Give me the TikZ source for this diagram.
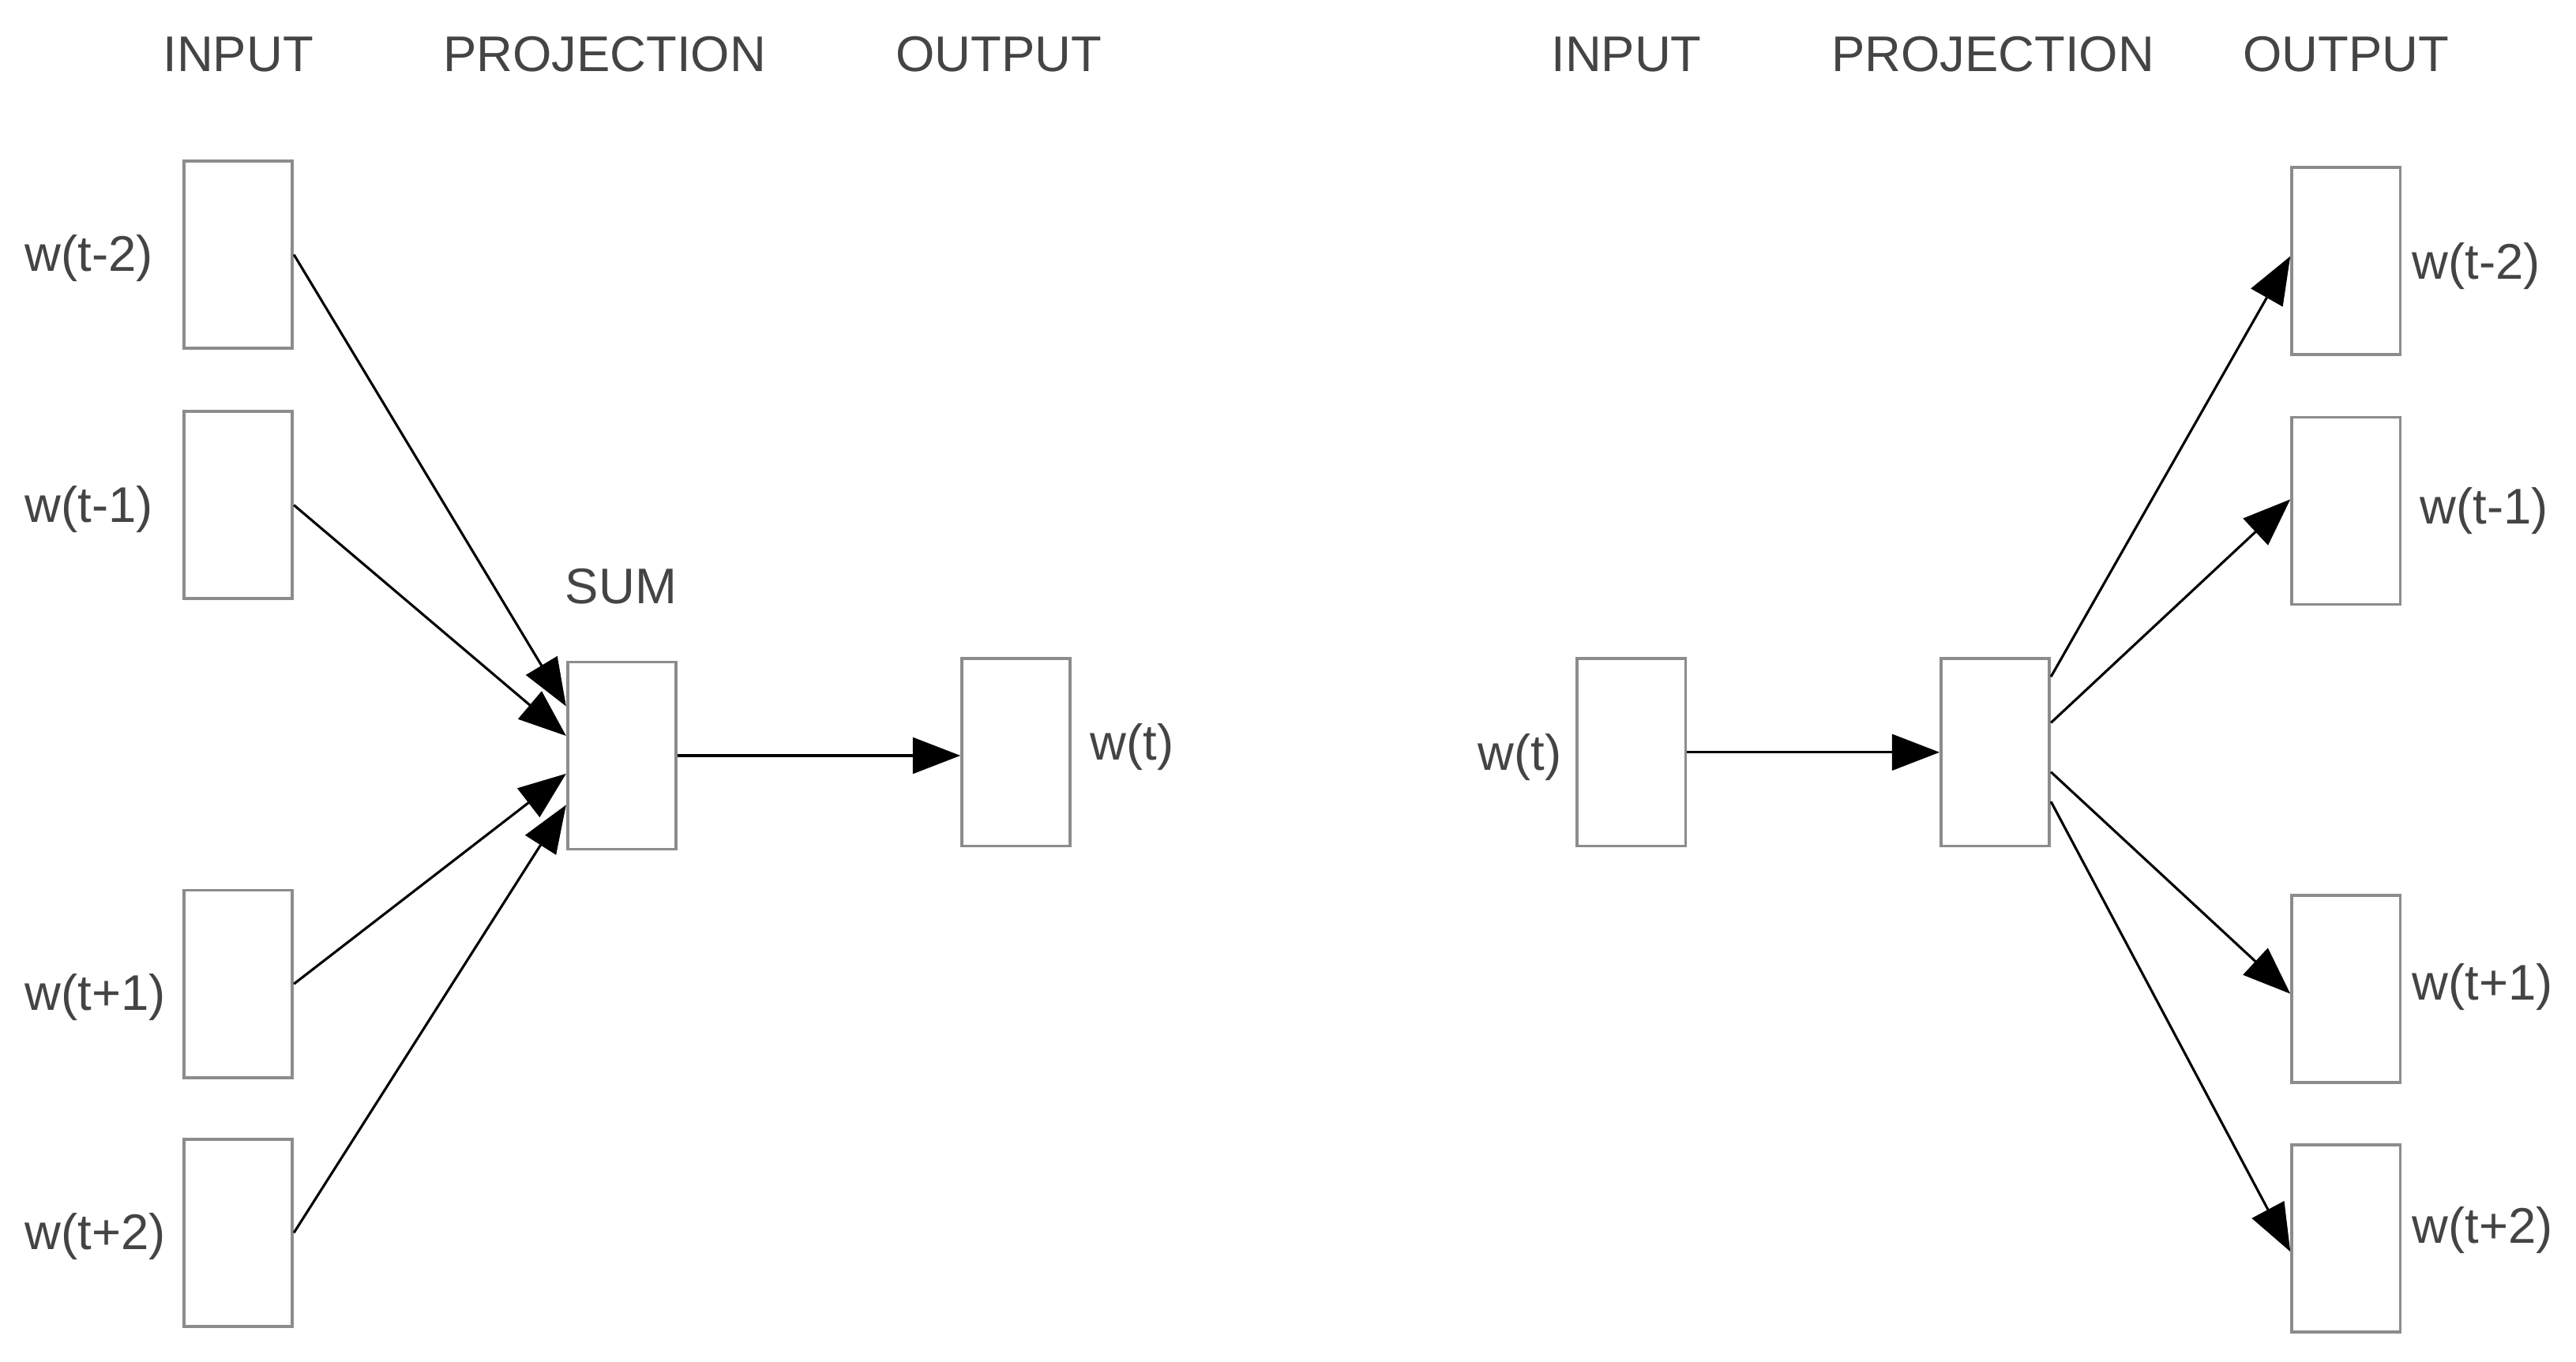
\documentclass[tikz,border=0pt]{standalone}
\usepackage{fontspec}
\setmainfont{Liberation Sans}
\usetikzlibrary{arrows.meta}
\definecolor{boxgray}{HTML}{8C8C8C}
\definecolor{txtgray}{HTML}{444444}
\tikzset{
  box/.style={draw=boxgray, line width=1.8pt, minimum width=66pt, minimum height=114pt, inner sep=0pt},
  lbl/.style={text=txtgray, inner sep=0pt, font=\fontsize{30.5}{36}\selectfont},
  arr/.style={-{Triangle[length=29pt,width=22pt]}, line width=1.5pt}
}
\begin{document}
\begin{tikzpicture}[x=1pt,y=-1pt]
    \useasboundingbox (0,0) rectangle (1568,829);
    %заголовки слоёв
    \node[lbl] (hinL) at (145,33) {INPUT};
    \node[lbl] (hprojL) at (368,33) {PROJECTION};
    \node[lbl] (houtL) at (608,33) {OUTPUT};
    \node[lbl] (hinR) at (990,33) {INPUT};
    \node[lbl] (hprojR) at (1213,33) {PROJECTION};
    \node[lbl] (houtR) at (1428,33) {OUTPUT};
    %левая сеть: входные блоки и подписи
    \node[box] (inA) at (145,155) {};
    \node[box] (inB) at (145,307.5) {};
    \node[box] (inC) at (145,599) {};
    \node[box] (inD) at (145,750.5) {};
    \node[lbl,anchor=west] (linA) at (15,157) {w(t-2)};
    \node[lbl,anchor=west] (linB) at (15,310) {w(t-1)};
    \node[lbl,anchor=west] (linC) at (15,607) {w(t+1)};
    \node[lbl,anchor=west] (linD) at (15,753) {w(t+2)};
    %сумматор и выход
    \node[box] (sum) at (378.5,460) {};
    \node[lbl] (lsum) at (378,357) {SUM};
    \node[box] (outL) at (618.5,458) {};
    \node[lbl] (loutL) at (689,455) {w(t)};
    %стрелки левой сети
    \draw[arr] (inA.east) -- ([yshift=30pt]sum.west);
    \draw[arr] (inB.east) -- ([yshift=12pt]sum.west);
    \draw[arr] (inC.east) -- ([yshift=-11pt]sum.west);
    \draw[arr] (inD.east) -- ([yshift=-30pt]sum.west);
    \draw[arr] (sum.east) -- (sum.east -| outL.west);
    %правая сеть: вход и проекция
    \node[box] (inR) at (993,458) {};
    \node[lbl] (linR) at (925,461) {w(t)};
    \node[box] (proj) at (1214.5,458) {};
    \draw[arr] (inR.east) -- (proj.west);
    %выходные блоки и подписи
    \node[box] (outA) at (1428,159) {};
    \node[box] (outB) at (1428,311) {};
    \node[box] (outC) at (1428,602) {};
    \node[box] (outD) at (1428,754) {};
    \node[lbl,anchor=west] (loutA) at (1468,162) {w(t-2)};
    \node[lbl,anchor=west] (loutB) at (1473,311) {w(t-1)};
    \node[lbl,anchor=west] (loutC) at (1468,601) {w(t+1)};
    \node[lbl,anchor=west] (loutD) at (1468,749) {w(t+2)};
    %стрелки правой сети
    \draw[arr] ([yshift=46pt]proj.east) -- ([yshift=3pt]outA.west);
    \draw[arr] ([yshift=18pt]proj.east) -- ([yshift=7pt]outB.west);
    \draw[arr] ([yshift=-12pt]proj.east) -- ([yshift=-3pt]outC.west);
    \draw[arr] ([yshift=-30pt]proj.east) -- ([yshift=-8pt]outD.west);
\end{tikzpicture}
\end{document}
